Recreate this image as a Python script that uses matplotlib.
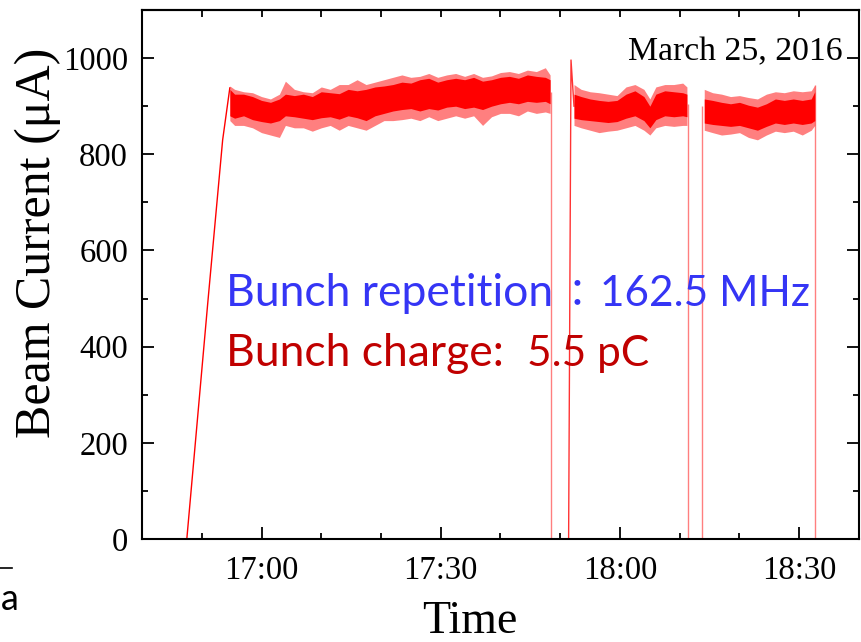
import matplotlib
matplotlib.use("Agg")
import matplotlib.pyplot as plt
from matplotlib.ticker import FixedLocator, MultipleLocator
from matplotlib.lines import Line2D

# ---- data (time in minutes after 16:40, current in uA) ----
ramp_t = [7.5, 11.0, 13.5, 14.7]
ramp_v = [0, 490, 830, 938]

segA_t = [14.7, 15.5, 17, 18.5, 20, 21.5, 23, 24, 25.5, 27, 28.5, 30, 31.5, 33, 34.5,
          36, 37.5, 39, 40.5, 42, 43.5, 45, 46.5, 48, 49.5, 51, 52.5, 54, 55.5, 57,
          58.5, 60, 61.5, 63, 64.5, 66, 67.5, 68.3]
segA_clo = [880, 875, 880, 872, 868, 865, 870, 880, 878, 875, 872, 876, 878, 873, 880,
            876, 870, 880, 885, 890, 893, 895, 890, 895, 892, 898, 900, 895, 898, 893,
            900, 905, 908, 905, 910, 908, 910, 905]
segA_chi = [935, 925, 925, 920, 912, 908, 915, 925, 922, 925, 920, 930, 928, 926, 935,
            932, 935, 940, 942, 945, 950, 948, 955, 958, 950, 955, 958, 955, 960, 952,
            955, 960, 962, 958, 965, 962, 960, 955]
segA_olo = [870, 860, 860, 855, 845, 840, 835, 860, 855, 855, 848, 855, 860, 850, 860,
            855, 850, 860, 870, 870, 872, 875, 870, 878, 870, 875, 880, 875, 880, 860,
            878, 885, 885, 880, 890, 885, 888, 885]
segA_ohi = [942, 935, 930, 928, 920, 915, 925, 952, 935, 930, 928, 940, 935, 945, 945,
            955, 945, 950, 955, 960, 965, 960, 962, 968, 960, 965, 968, 962, 968, 960,
            963, 970, 972, 968, 975, 972, 980, 965]

segB_t = [72.3, 73.5, 75, 76.5, 78, 79.5, 81, 82.5, 84, 85, 86, 87.5, 89, 90.5, 91.2]
segB_clo = [875, 872, 870, 868, 866, 868, 875, 880, 870, 855, 872, 880, 878, 880, 878]
segB_chi = [925, 920, 915, 912, 910, 912, 925, 932, 920, 900, 925, 932, 930, 928, 925]
segB_olo = [860, 855, 850, 845, 848, 850, 855, 860, 850, 840, 855, 860, 858, 860, 860]
segB_ohi = [945, 935, 930, 928, 925, 922, 940, 945, 935, 915, 940, 945, 945, 948, 940]

segC_t = [94.1, 95.5, 97, 98.5, 100, 101.5, 103, 104.5, 106, 107.5, 109, 110.5, 112, 112.6]
segC_clo = [865, 862, 860, 858, 860, 855, 850, 858, 865, 862, 865, 862, 865, 870]
segC_chi = [915, 912, 908, 905, 908, 902, 898, 905, 915, 912, 915, 912, 915, 930]
segC_olo = [850, 845, 840, 842, 845, 835, 830, 840, 848, 845, 848, 840, 850, 860]
segC_ohi = [935, 928, 925, 920, 922, 918, 915, 925, 930, 928, 932, 930, 932, 944]

spike_t = [71.4, 71.8, 72.3]
spike_v = [0, 996, 900]

edge_t = [68.4, 91.3, 93.8, 112.7]
edge_top = [930, 905, 900, 944]

x_tick_pos = [20, 50, 80, 110]
x_tick_labels = ["17:00", "17:30", "18:00", "18:30"]
y_ticks = [0, 200, 400, 600, 800, 1000]

RED = "#ff0000"
SERIF = "Liberation Serif"
SANS = ["Lato", "Noto Sans CJK JP"]
W, H = 862, 642


def fx(px):
    return px / W


def fy(py):
    return 1 - py / H


fig = plt.figure(figsize=(8.62, 6.42), dpi=100)
ax = fig.add_axes([fx(142), fy(539), (859 - 142) / W, (539 - 10) / H])

ax.plot(ramp_t, ramp_v, color=RED, lw=1.0)
for t, clo, chi, olo, ohi in [(segA_t, segA_clo, segA_chi, segA_olo, segA_ohi),
                              (segB_t, segB_clo, segB_chi, segB_olo, segB_ohi),
                              (segC_t, segC_clo, segC_chi, segC_olo, segC_ohi)]:
    ax.fill_between(t, olo, ohi, color=RED, alpha=0.5, lw=0)
    ax.fill_between(t, clo, chi, color=RED, alpha=1.0, lw=0)
ax.plot(spike_t, spike_v, color=RED, lw=1.0, alpha=0.8)
ax.vlines(edge_t, 0, edge_top, color=RED, lw=1.0, alpha=0.5)

ax.set_xlim(0, 120)
ax.set_ylim(0, 1100)

ax.xaxis.set_major_locator(FixedLocator(x_tick_pos))
ax.set_xticklabels(x_tick_labels)
ax.xaxis.set_minor_locator(MultipleLocator(10))
ax.yaxis.set_major_locator(FixedLocator(y_ticks))
ax.yaxis.set_minor_locator(MultipleLocator(100))

for sp in ax.spines.values():
    sp.set_linewidth(1.5)

ax.tick_params(which="both", direction="in", width=1.3, left=True, right=True,
               bottom=True, top=False)
ax.tick_params(which="major", length=8.5)
ax.tick_params(which="minor", length=4.3)
ax.tick_params(axis="x", which="major", pad=12)
ax.tick_params(axis="y", which="major", pad=10)
for lab in ax.get_xticklabels() + ax.get_yticklabels():
    lab.set_fontfamily(SERIF)
    lab.set_fontsize(23.5)

top = ax.secondary_xaxis("top")
top.xaxis.set_major_locator(MultipleLocator(10))
top.tick_params(direction="in", length=5, width=1.3, labeltop=False)
top.spines["top"].set_linewidth(1.5)

fig.text(fx(38), fy(243), "Beam Current (\u03bcA)", rotation=90,
         ha="center", va="center", fontsize=36, family=SERIF)
fig.text(fx(470), fy(622), "Time", ha="center", va="center",
         fontsize=33, family=SERIF)

fig.text(fx(843), fy(60), "March 25, 2016", ha="right", va="baseline",
         fontsize=24.3, family=SERIF)

BLUE = "#3535f5"
DRED = "#c00000"
fig.text(fx(226), fy(306), "Bunch repetition", ha="left", va="baseline",
         fontsize=32, color=BLUE, family=SANS)
fig.text(fx(577), fy(306), "\uff1a", ha="center", va="baseline",
         fontsize=28, color=BLUE, family=SANS)
fig.text(fx(600), fy(306), "162.5 MHz", ha="left", va="baseline",
         fontsize=30.5, color=BLUE, family=SANS)
fig.text(fx(226), fy(366), "Bunch charge:", ha="left", va="baseline",
         fontsize=32, color=DRED, family=SANS)
fig.text(fx(527), fy(366), "5.5 pC", ha="left", va="baseline",
         fontsize=30.5, color=DRED, family=SANS)

fig.add_artist(Line2D([0, fx(12)], [fy(568), fy(568)],
                      color="black", lw=1.2, transform=fig.transFigure))
fig.text(fx(1), fy(610), "a", ha="left", va="baseline", fontsize=26,
         family="Lato")

fig.savefig("out.png", dpi=100)
